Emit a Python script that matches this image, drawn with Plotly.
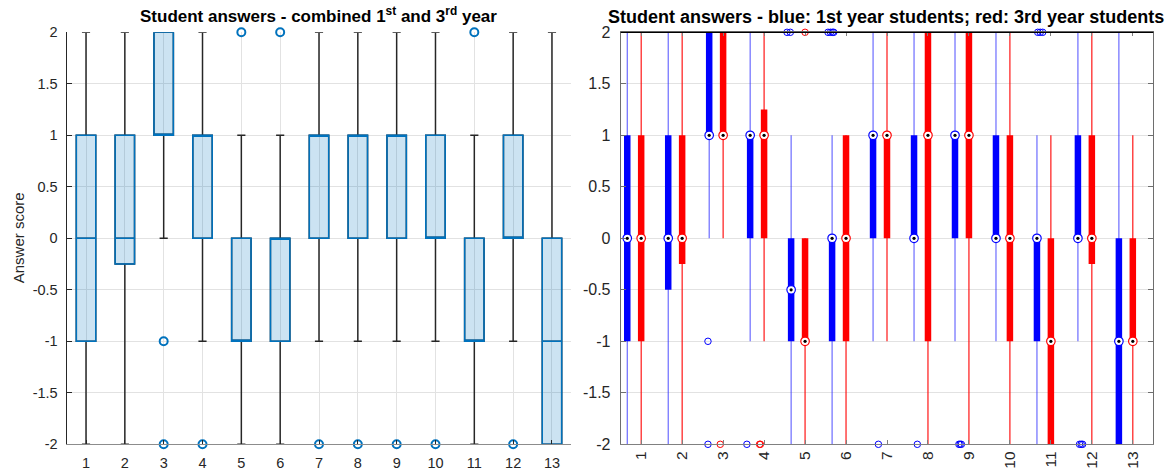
import plotly.graph_objects as go

W, H = 1169, 468

questions = list(range(1, 14))
tick_labels = [str(q) for q in questions]

# ---- Left panel: combined 1st + 3rd year (boxchart statistics) ----
comb_q1 = [-1, -0.25, 1, 0, -1, -1, 0, 0, 0, 0, -1, 0, -2]
comb_med = [0, 0, 1, 1, -1, 0, 1, 1, 1, 0, -1, 0, -1]
comb_q3 = [1, 1, 2, 1, 0, 0, 1, 1, 1, 1, 0, 1, 0]
comb_lo = [-2, -2, 0, -1, -2, -2, -1, -1, -1, -1, -2, -1, -2]
comb_hi = [2, 2, 2, 2, 1, 1, 2, 2, 2, 2, 1, 2, 2]
comb_out_q = [3, 3, 4, 5, 6, 7, 8, 9, 10, 11, 12]
comb_out_v = [-1, -2, -2, 2, 2, -2, -2, -2, -2, 2, -2]

# ---- Right panel: 1st year (blue) ----
y1_q1 = [-1, -0.5, 1, 0, -1, -1, 0, 0, 0, 0, -1, 0, -2]
y1_med = [0, 0, 1, 1, -0.5, 0, 1, 0, 1, 0, 0, 0, -1]
y1_q3 = [1, 1, 2, 1, 0, 0, 1, 1, 1, 1, 0, 1, 0]
y1_lo = [-2, -2, 0, -1, -2, -2, -1, -1, -1, -1, -2, -1, -2]
y1_hi = [2, 2, 2, 2, 1, 1, 2, 2, 2, 2, 1, 2, 2]
y1_out_q = [3, 3, 4, 5, 5, 6, 6, 6, 6, 7, 8, 9, 9, 9, 11, 11, 11, 12, 12, 12]
y1_out_v = [-1, -2, -2, 2, 2, 2, 2, 2, 2, -2, -2, -2, -2, -2, 2, 2, 2, -2, -2, -2]
y1_out_jit = [-0.03, -0.03, -0.08, -0.1, -0.02, -0.1, -0.04, 0.01, 0.04, 0.13, 0.08,
              0.095, 0.125, 0.155, 0.02, 0.08, 0.14, 0.04, 0.08, 0.115]

# ---- Right panel: 3rd year (red) ----
y3_q1 = [-1, -0.25, 1, 0, -1, -1, 0, -1, 0, -1, -2, -0.25, -1]
y3_med = [0, 0, 1, 1, -1, 0, 1, 1, 1, 0, -1, 0, -1]
y3_q3 = [1, 1, 2, 1.25, 0, 1, 1, 2, 2, 1, 0, 1, 0]
y3_lo = [-2, -2, 0, -1, -2, -2, -1, -2, -2, -2, -2, -2, -2]
y3_hi = [2, 2, 2, 2, 0, 1, 2, 2, 2, 2, 1, 2, 1]
y3_out_q = [3, 4, 4, 5]
y3_out_v = [-2, -2, -2, 2]
y3_out_jit = [-0.07, -0.11, -0.09, 0.0]

BLUE_SHIFT = -0.34
FONT = "Liberation Sans, Arial, Helvetica, sans-serif"
TXT = "#262626"
MBLUE = "#0072BD"

fig = go.Figure()

# Left: whiskers (dark) via a box trace, then the blue box on top
fig.add_trace(go.Box(
    x=questions, q1=comb_q1, median=comb_med, q3=comb_q3,
    lowerfence=comb_lo, upperfence=comb_hi,
    width=0.5, whiskerwidth=0.42, boxpoints=False,
    line=dict(color="#262626", width=1.5), fillcolor="rgba(0,0,0,0)",
    xaxis="x", yaxis="y", showlegend=False, hoverinfo="skip"))
fig.add_trace(go.Box(
    x=questions, q1=comb_q1, median=comb_med, q3=comb_q3,
    lowerfence=comb_q1, upperfence=comb_q3,
    width=0.5, whiskerwidth=0, boxpoints=False,
    line=dict(color=MBLUE, width=1.5), fillcolor="rgba(0,114,189,0.2)",
    xaxis="x", yaxis="y", showlegend=False, hoverinfo="skip"))
fig.add_trace(go.Scatter(
    x=comb_out_q, y=comb_out_v, mode="markers",
    marker=dict(symbol="circle-open", size=8, color=MBLUE, line=dict(width=2, color=MBLUE)),
    cliponaxis=False, xaxis="x", yaxis="y", showlegend=False, hoverinfo="skip"))


def seg(xs, a, b):
    X, Y = [], []
    for x, y0, y1 in zip(xs, a, b):
        X += [x, x, None]
        Y += [y0, y1, None]
    return X, Y


pos_b = [q + BLUE_SHIFT for q in questions]
pos_r = list(questions)

groups = [
    (pos_b, y1_q1, y1_med, y1_q3, y1_lo, y1_hi, "rgba(40,40,255,0.75)", "#0000FF"),
    (pos_r, y3_q1, y3_med, y3_q3, y3_lo, y3_hi, "#FF0000", "#FF0000"),
]
for pos, q1, med, q3, lo, hi, wcol, col in groups:
    X, Y = seg(pos, lo, hi)
    fig.add_trace(go.Scatter(x=X, y=Y, mode="lines", line=dict(color=wcol, width=1.1),
                             xaxis="x2", yaxis="y2", showlegend=False, hoverinfo="skip"))
for pos, q1, med, q3, lo, hi, wcol, col in groups:
    X, Y = seg(pos, q1, q3)
    fig.add_trace(go.Scatter(x=X, y=Y, mode="lines", line=dict(color=col, width=6.5),
                             xaxis="x2", yaxis="y2", showlegend=False, hoverinfo="skip"))

# outliers
for oq, ov, oj, shift, col in [
    (y1_out_q, y1_out_v, y1_out_jit, BLUE_SHIFT, "#0000FF"),
    (y3_out_q, y3_out_v, y3_out_jit, 0.0, "#FF0000"),
]:
    fig.add_trace(go.Scatter(
        x=[q + shift + j for q, j in zip(oq, oj)], y=ov, mode="markers",
        marker=dict(symbol="circle-open", size=6.5, color=col, line=dict(width=1, color=col)),
        cliponaxis=False, xaxis="x2", yaxis="y2", showlegend=False, hoverinfo="skip"))

# medians: white circle with coloured edge and black dot
for pos, q1, med, q3, lo, hi, wcol, col in groups:
    fig.add_trace(go.Scatter(
        x=pos, y=med, mode="markers",
        marker=dict(symbol="circle", size=8.5, color="white", line=dict(width=1.2, color=col)),
        cliponaxis=False, xaxis="x2", yaxis="y2", showlegend=False, hoverinfo="skip"))
    fig.add_trace(go.Scatter(
        x=pos, y=med, mode="markers",
        marker=dict(symbol="circle", size=3.2, color="black", line=dict(width=0)),
        cliponaxis=False, xaxis="x2", yaxis="y2", showlegend=False, hoverinfo="skip"))

ydom = [(H - 444.3) / H, (H - 32.3) / H]
ticks_y = [-2, -1.5, -1, -0.5, 0, 0.5, 1, 1.5, 2]
ticks_y_txt = ["-2", "-1.5", "-1", "-0.5", "0", "0.5", "1", "1.5", "2"]

fig.update_layout(
    width=W, height=H,
    margin=dict(l=0, r=0, t=0, b=0),
    paper_bgcolor="white", plot_bgcolor="white",
    boxmode="overlay",
    font=dict(family=FONT, color=TXT),
    xaxis=dict(domain=[66.6 / W, 571.4 / W], range=[0.5, 13.5], tickvals=questions,
               ticktext=tick_labels, showgrid=True, gridcolor="#e2e2e2", zeroline=False,
               showline=True, linecolor="#8c8c8c", linewidth=1, ticks="inside", ticklen=4,
               tickcolor="#262626", tickfont=dict(size=14.5, color=TXT), ticklabelstandoff=5,
               anchor="y", automargin=False),
    yaxis=dict(domain=ydom, range=[-2, 2], tickvals=ticks_y, ticktext=ticks_y_txt,
               showgrid=True, gridcolor="#e2e2e2", zeroline=False, showline=True,
               linecolor="#262626", linewidth=1, ticks="inside", ticklen=5, tickcolor="#262626",
               tickfont=dict(size=14.5, color=TXT), ticklabelstandoff=5, anchor="x",
               automargin=False),
    xaxis2=dict(domain=[620.7 / W, 1153.3 / W], range=[0.5, 13.5], tickvals=questions,
                ticktext=tick_labels, tickangle=-90, showgrid=False, zeroline=False,
                showline=True, linecolor="#808080", linewidth=1, mirror="ticks",
                ticks="inside", ticklen=4, tickcolor="#808080",
                tickfont=dict(size=15.5, color=TXT), ticklabelstandoff=0, anchor="y2",
                automargin=False),
    yaxis2=dict(domain=ydom, range=[-2, 2], tickvals=ticks_y, ticktext=ticks_y_txt,
                showgrid=True, gridcolor="#e2e2e2", zeroline=False, showline=True,
                linecolor="#6e6e6e", linewidth=1, mirror="ticks", ticks="inside", ticklen=5,
                tickcolor="#6e6e6e", tickfont=dict(size=16, color=TXT), ticklabelstandoff=6,
                anchor="x2", automargin=False),
    shapes=[dict(type="line", xref="x2 domain", yref="y2 domain", x0=0, x1=1, y0=1, y1=1,
                 line=dict(color="#000000", width=1.2))],
    annotations=[
        dict(text="<b>Student answers - combined 1<sup>st</sup> and 3<sup>rd</sup> year</b>",
             x=318.5 / W, y=(H - 15) / H, xref="paper", yref="paper", showarrow=False,
             xanchor="center", yanchor="middle", font=dict(size=17, color="#000000", family=FONT)),
        dict(text="<b>Student answers - blue: 1st year students; red: 3rd year students</b>",
             x=886 / W, y=(H - 17) / H, xref="paper", yref="paper", showarrow=False,
             xanchor="center", yanchor="middle", font=dict(size=18, color="#000000", family=FONT)),
        dict(text="Answer score", x=18 / W, y=(H - 238.3) / H, xref="paper", yref="paper",
             showarrow=False, textangle=-90, xanchor="center", yanchor="middle",
             font=dict(size=15, color=TXT, family=FONT)),
    ],
)

fig.write_html("out.html", config={"displayModeBar": False},
               post_script="document.body.style.margin='0';document.body.style.padding='0';"
                           "document.body.style.overflow='hidden';")
